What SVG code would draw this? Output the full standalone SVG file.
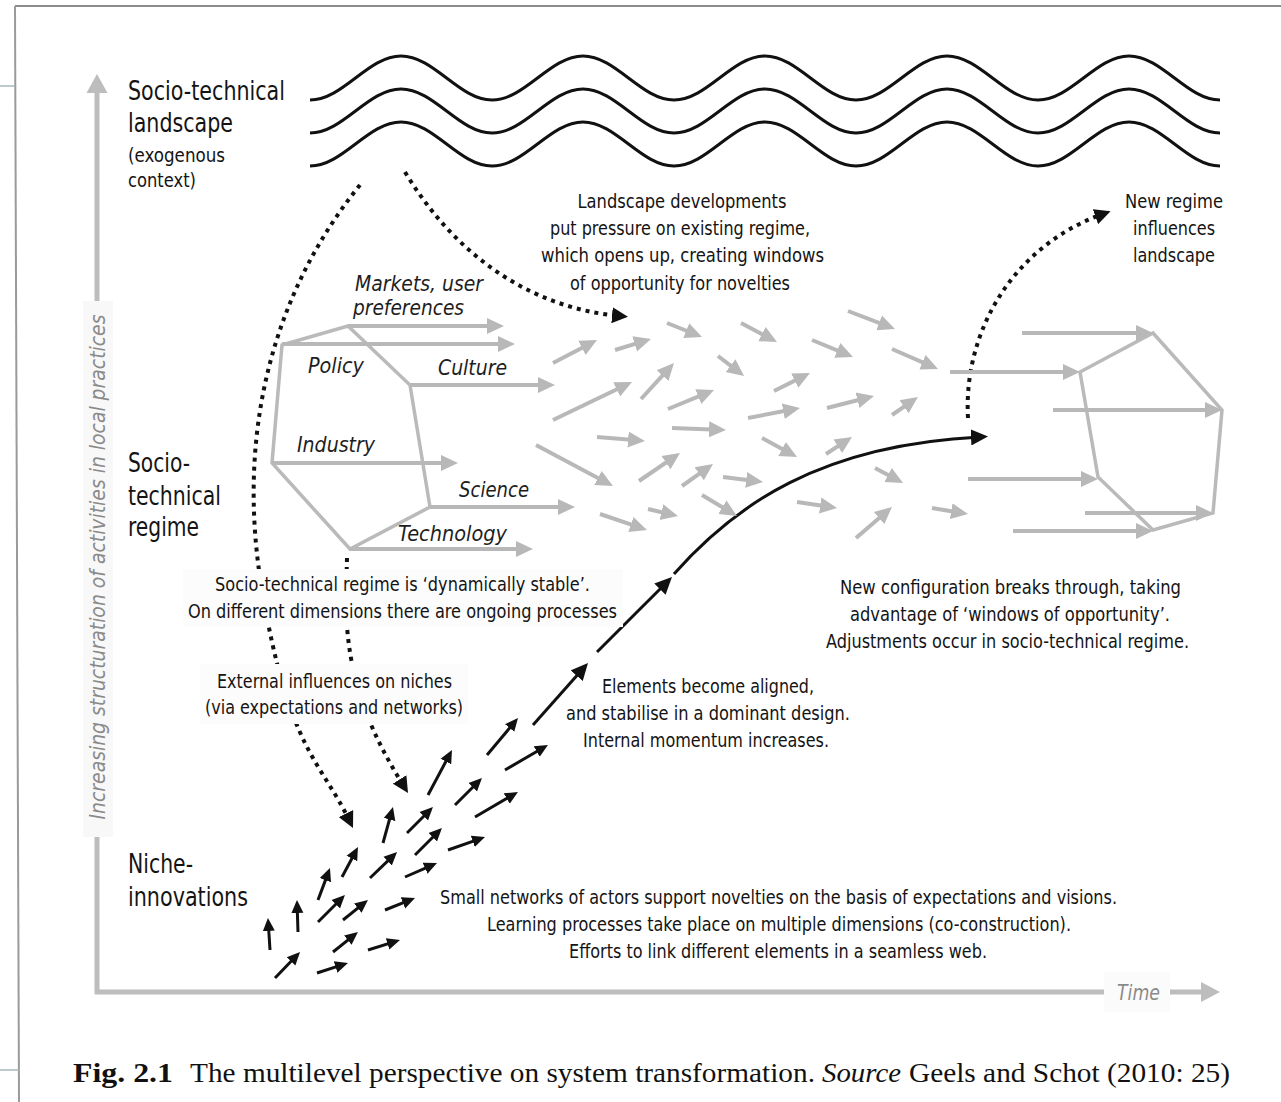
<svg xmlns="http://www.w3.org/2000/svg" width="1281" height="1102" viewBox="0 0 1281 1102">
  <style>
    .sans { font-family: "Liberation Sans Narrow", "DejaVu Sans Condensed", "Liberation Sans", sans-serif; fill: #141414; }
    .head { font-size: 26px; }
    .sub { font-size: 20px; }
    .body { font-size: 20px; text-anchor: middle; }
    .dim { font-size: 21px; font-style: italic; fill: #1e1e1e; }
    .axis-t { font-size: 21px; font-style: italic; fill: #8a8a8a; }
    .cap { font-family: "Liberation Serif", "Times New Roman", serif; font-size: 27px; fill: #111; }
    .wave { fill: none; stroke: #111; stroke-width: 3; }
    .hex { fill: none; stroke: #bababa; stroke-width: 3.5; stroke-linejoin: miter; }
    .ga { stroke: #b8b8b8; stroke-width: 4; fill: none; marker-end: url(#hg); }
    .na { stroke: #111; stroke-width: 3; fill: none; marker-end: url(#hb); }
    .ka { stroke: #111; stroke-width: 3; fill: none; marker-end: url(#hk); }
    .dot { stroke: #111; stroke-width: 4; stroke-dasharray: 4 5; fill: none; marker-end: url(#hd); }
    .note-bg { fill: #fcfcfc; }
  </style>
  <defs>
    <marker id="hg" markerUnits="userSpaceOnUse" viewBox="0 0 18 18" markerWidth="18" markerHeight="18" refX="9" refY="9" orient="auto">
      <path d="M0,1 L17,9 L0,17 z" fill="#b8b8b8"/>
    </marker>
    <marker id="hb" markerUnits="userSpaceOnUse" viewBox="0 0 14 14" markerWidth="14" markerHeight="14" refX="6" refY="7" orient="auto">
      <path d="M0,1 L13,7 L0,13 z" fill="#111"/>
    </marker>
    <marker id="hk" markerUnits="userSpaceOnUse" viewBox="0 0 18 16" markerWidth="18" markerHeight="16" refX="9" refY="8" orient="auto">
      <path d="M0,0 L17,8 L0,16 z" fill="#111"/>
    </marker>
    <marker id="hd" markerUnits="userSpaceOnUse" viewBox="0 0 17 16" markerWidth="17" markerHeight="16" refX="8" refY="8" orient="auto">
      <path d="M0,0 L16,8 L0,16 z" fill="#111"/>
    </marker>
    <path id="wave-line" d="M310,22 C343.1,22 367.9,-22 401,-22 S459,22 492,22 S550,-22 583,-22 S641,22 674,22 S732,-22 765,-22 S823,22 856,22 S914,-22 947,-22 S1005,22 1038,22 S1096,-22 1129,-22 S1187,22 1220,22"/>
  </defs>

  <rect width="1281" height="1102" fill="#fff"/>

  <!-- page edges -->
  <g id="frame" fill="none">
    <line x1="15" y1="6" x2="1281" y2="6" stroke="#8c8c8c" stroke-width="2"/>
    <line x1="15" y1="6" x2="19" y2="1102" stroke="#9a9a9a" stroke-width="2"/>
    <line x1="0" y1="86" x2="15" y2="86" stroke="#a9b9b9" stroke-width="1.5"/>
    <line x1="0" y1="1070" x2="19" y2="1070" stroke="#a9b9b9" stroke-width="1.5"/>
  </g>

  <!-- axes -->
  <g id="axes">
    <line x1="97" y1="994" x2="97" y2="90" stroke="#bdbdbd" stroke-width="5"/>
    <polygon points="97,74 107.5,93 86.5,93" fill="#bdbdbd"/>
    <line x1="95" y1="992" x2="1204" y2="992" stroke="#bdbdbd" stroke-width="5"/>
    <polygon points="1220,992 1201,982 1201,1002" fill="#bdbdbd"/>
    <rect x="83" y="301" width="30" height="536" fill="#f8f8f8"/>
    <text class="sans axis-t" transform="translate(105,567) rotate(-90)" text-anchor="middle" textLength="505" lengthAdjust="spacingAndGlyphs">Increasing structuration of activities in local practices</text>
    <rect x="1104" y="972" width="66" height="40" fill="#fbfbfb"/>
    <text class="sans axis-t" x="1117" y="1000" font-size="20" textLength="43" lengthAdjust="spacingAndGlyphs">Time</text>
  </g>

  <!-- landscape waves -->
  <g id="landscape">
    <use href="#wave-line" class="wave" transform="translate(0,78)"/>
    <use href="#wave-line" class="wave" transform="translate(0,111)"/>
    <use href="#wave-line" class="wave" transform="translate(0,144)"/>
  </g>

  <!-- level labels -->
  <g id="label-landscape" class="sans">
    <text class="head" x="128" y="100" textLength="157" lengthAdjust="spacingAndGlyphs">Socio-technical</text>
    <text class="head" x="128" y="132" textLength="105" lengthAdjust="spacingAndGlyphs">landscape</text>
    <text class="sub" x="128" y="162" textLength="97" lengthAdjust="spacingAndGlyphs">(exogenous</text>
    <text class="sub" x="128" y="187" textLength="68" lengthAdjust="spacingAndGlyphs">context)</text>
  </g>
  <g id="label-regime" class="sans">
    <text class="head" x="128" y="472" textLength="62" lengthAdjust="spacingAndGlyphs">Socio-</text>
    <text class="head" x="128" y="505" textLength="93" lengthAdjust="spacingAndGlyphs">technical</text>
    <text class="head" x="128" y="536" textLength="71" lengthAdjust="spacingAndGlyphs">regime</text>
  </g>
  <g id="label-niche" class="sans">
    <text class="head" x="128" y="873" textLength="65" lengthAdjust="spacingAndGlyphs">Niche-</text>
    <text class="head" x="128" y="906" textLength="120" lengthAdjust="spacingAndGlyphs">innovations</text>
  </g>

  <!-- connectors -->
  <g id="connectors">
    <path class="dot" d="M360,185 C275,290 235,430 262,590 S320,760 349.5,820.8"/>
    <path class="dot" d="M347,558 L346,600 C346,680 372,735 403.8,786.2"/>
    <path class="dot" d="M405,172 C455,255 530,308 620,316"/>
    <path class="dot" d="M968,418 C963,330 1015,245 1103,214"/>
    <line class="ka" x1="533" y1="725" x2="582.7" y2="669"/>
    <line class="ka" x1="597" y1="652" x2="666.3" y2="582.7"/>
    <path class="ka" d="M674,574 C735,505 820,445 980,437"/>
  </g>

  <!-- existing regime -->
  <g id="regime-current">
    <polygon class="hex" points="282,345 348,326 410,385 430,507 350,549 272,463"/>
    <line class="ga" x1="348" y1="326" x2="496" y2="326"/>
    <line class="ga" x1="282" y1="344" x2="507" y2="344"/>
    <line class="ga" x1="410" y1="385" x2="547" y2="385"/>
    <line class="ga" x1="272" y1="463" x2="450" y2="463"/>
    <line class="ga" x1="430" y1="507" x2="567" y2="507"/>
    <line class="ga" x1="350" y1="549" x2="525" y2="549"/>
    <g class="sans dim">
      <text x="355" y="291" textLength="128" lengthAdjust="spacingAndGlyphs">Markets, user</text>
      <text x="353" y="315" textLength="111" lengthAdjust="spacingAndGlyphs">preferences</text>
      <text x="308" y="373" textLength="56" lengthAdjust="spacingAndGlyphs">Policy</text>
      <text x="438" y="375" textLength="69" lengthAdjust="spacingAndGlyphs">Culture</text>
      <text x="297" y="452" textLength="78" lengthAdjust="spacingAndGlyphs">Industry</text>
      <text x="459" y="497" textLength="70" lengthAdjust="spacingAndGlyphs">Science</text>
      <text x="398" y="541" textLength="109" lengthAdjust="spacingAndGlyphs">Technology</text>
    </g>
  </g>

  <!-- opened-up regime: scattered dimension arrows -->
  <g id="regime-flux">
    <line class="ga" x1="553" y1="363" x2="589.9" y2="343.7"/>
    <line class="ga" x1="615" y1="350" x2="643.3" y2="341.3"/>
    <line class="ga" x1="667" y1="323" x2="694.6" y2="334"/>
    <line class="ga" x1="741" y1="323" x2="769.9" y2="338.3"/>
    <line class="ga" x1="848" y1="311" x2="887.5" y2="326.1"/>
    <line class="ga" x1="812" y1="340" x2="845.6" y2="353.9"/>
    <line class="ga" x1="892" y1="349" x2="930.7" y2="365.8"/>
    <line class="ga" x1="553" y1="420" x2="624.8" y2="385.5"/>
    <line class="ga" x1="641" y1="399" x2="668.6" y2="368.9"/>
    <line class="ga" x1="718" y1="356" x2="737.7" y2="371.1"/>
    <line class="ga" x1="668" y1="409" x2="706.6" y2="393.1"/>
    <line class="ga" x1="774" y1="391" x2="802.8" y2="376.6"/>
    <line class="ga" x1="748" y1="418" x2="792.1" y2="409.5"/>
    <line class="ga" x1="827" y1="408" x2="866.2" y2="398"/>
    <line class="ga" x1="892" y1="415" x2="911.4" y2="401.6"/>
    <line class="ga" x1="597" y1="437" x2="637" y2="440.3"/>
    <line class="ga" x1="672" y1="428" x2="718" y2="429.7"/>
    <line class="ga" x1="536" y1="445" x2="605.9" y2="482.2"/>
    <line class="ga" x1="762" y1="438" x2="790" y2="453.2"/>
    <line class="ga" x1="826" y1="454" x2="845.3" y2="441.4"/>
    <line class="ga" x1="639" y1="481" x2="673.4" y2="457.5"/>
    <line class="ga" x1="682" y1="486" x2="706.5" y2="468.6"/>
    <line class="ga" x1="723" y1="477" x2="755.1" y2="481"/>
    <line class="ga" x1="875" y1="468" x2="896" y2="479.2"/>
    <line class="ga" x1="600" y1="514" x2="639.4" y2="527.4"/>
    <line class="ga" x1="648" y1="509" x2="670.2" y2="514.2"/>
    <line class="ga" x1="702" y1="495" x2="730.1" y2="511.9"/>
    <line class="ga" x1="797" y1="502" x2="829.1" y2="506.8"/>
    <line class="ga" x1="856" y1="538" x2="885.9" y2="512.2"/>
    <line class="ga" x1="932" y1="508" x2="960.1" y2="512.7"/>
  </g>

  <!-- new regime -->
  <g id="regime-new">
    <polygon class="hex" points="1080,372 1153,333 1222,410 1213,513 1153,530 1098,477"/>
    <line class="ga" x1="1022" y1="333" x2="1145" y2="333"/>
    <line class="ga" x1="950" y1="372" x2="1072" y2="372"/>
    <line class="ga" x1="1053" y1="410" x2="1214" y2="410"/>
    <line class="ga" x1="968" y1="479" x2="1090" y2="479"/>
    <line class="ga" x1="1085" y1="513" x2="1205" y2="513"/>
    <line class="ga" x1="1013" y1="531" x2="1145" y2="531"/>
  </g>

  <!-- niche-innovations -->
  <g id="niche">
    <line class="na" x1="270" y1="950" x2="268.4" y2="925"/>
    <line class="na" x1="298" y1="932" x2="297.2" y2="907"/>
    <line class="na" x1="275" y1="978" x2="295.2" y2="957"/>
    <line class="na" x1="317" y1="973" x2="341.3" y2="965.1"/>
    <line class="na" x1="318" y1="922" x2="340" y2="900"/>
    <line class="na" x1="318" y1="900" x2="327.5" y2="874.6"/>
    <line class="na" x1="333" y1="952" x2="352.5" y2="936.4"/>
    <line class="na" x1="368" y1="950" x2="393.3" y2="942.1"/>
    <line class="na" x1="343" y1="920" x2="362.5" y2="904.4"/>
    <line class="na" x1="342" y1="877" x2="354.7" y2="853.2"/>
    <line class="na" x1="385" y1="910" x2="408.5" y2="900.6"/>
    <line class="na" x1="370" y1="878" x2="392" y2="856.9"/>
    <line class="na" x1="405" y1="877" x2="430.6" y2="865.8"/>
    <line class="na" x1="383" y1="843" x2="391.1" y2="813.7"/>
    <line class="na" x1="407" y1="833" x2="428" y2="812"/>
    <line class="na" x1="415" y1="855" x2="437" y2="833"/>
    <line class="na" x1="448" y1="850" x2="478.4" y2="839.3"/>
    <line class="na" x1="428" y1="795" x2="448.7" y2="756.2"/>
    <line class="na" x1="455" y1="805" x2="477" y2="783"/>
    <line class="na" x1="475" y1="817" x2="511.9" y2="795.5"/>
    <line class="na" x1="505" y1="770" x2="541.9" y2="748.5"/>
    <line class="na" x1="487" y1="755" x2="513.5" y2="723.4"/>
  </g>

  <!-- explanatory notes -->
  <g id="note-landscape-pressure" class="sans body">
    <text x="682" y="208" textLength="209" lengthAdjust="spacingAndGlyphs">Landscape  developments</text>
    <text x="680" y="235" textLength="260" lengthAdjust="spacingAndGlyphs">put pressure on existing regime,</text>
    <text x="682.5" y="262" textLength="283" lengthAdjust="spacingAndGlyphs">which opens up, creating windows</text>
    <text x="680" y="290" textLength="220" lengthAdjust="spacingAndGlyphs">of opportunity for novelties</text>
  </g>
  <g id="note-new-regime" class="sans body">
    <text x="1174" y="208" textLength="98" lengthAdjust="spacingAndGlyphs">New regime</text>
    <text x="1174" y="235" textLength="82" lengthAdjust="spacingAndGlyphs">influences</text>
    <text x="1174" y="262" textLength="82" lengthAdjust="spacingAndGlyphs">landscape</text>
  </g>
  <g id="note-regime-stable">
    <rect class="note-bg" x="183" y="569" width="440" height="58"/>
    <g class="sans body">
      <text x="402.5" y="591" textLength="375" lengthAdjust="spacingAndGlyphs">Socio-technical regime  is ‘dynamically stable’.</text>
      <text x="402.5" y="618" textLength="429" lengthAdjust="spacingAndGlyphs">On different dimensions there are ongoing processes</text>
    </g>
  </g>
  <g id="note-external">
    <rect class="note-bg" x="200" y="664" width="268" height="60"/>
    <g class="sans body">
      <text x="334.5" y="688" textLength="235" lengthAdjust="spacingAndGlyphs">External influences on niches</text>
      <text x="334" y="714" textLength="258" lengthAdjust="spacingAndGlyphs">(via expectations and networks)</text>
    </g>
  </g>
  <g id="note-aligned" class="sans body">
    <text x="708" y="693" textLength="212" lengthAdjust="spacingAndGlyphs">Elements become aligned,</text>
    <text x="708" y="720" textLength="284" lengthAdjust="spacingAndGlyphs">and stabilise in a dominant design.</text>
    <text x="706" y="747" textLength="246" lengthAdjust="spacingAndGlyphs">Internal momentum increases.</text>
  </g>
  <g id="note-breakthrough" class="sans body">
    <text x="1010.5" y="594" textLength="341" lengthAdjust="spacingAndGlyphs">New configuration breaks through, taking</text>
    <text x="1010" y="621" textLength="320" lengthAdjust="spacingAndGlyphs">advantage of ‘windows of opportunity’.</text>
    <text x="1007.5" y="648" textLength="363" lengthAdjust="spacingAndGlyphs">Adjustments occur in socio-technical regime.</text>
  </g>
  <g id="note-niche" class="sans body">
    <text x="778.5" y="904" textLength="677" lengthAdjust="spacingAndGlyphs">Small networks of actors support novelties on the basis of expectations and visions.</text>
    <text x="779" y="931" textLength="584" lengthAdjust="spacingAndGlyphs">Learning processes take place on multiple dimensions (co-construction).</text>
    <text x="778" y="958" textLength="418" lengthAdjust="spacingAndGlyphs">Efforts to link different elements in a seamless web.</text>
  </g>

  <!-- caption -->
  <g id="caption" class="cap">
    <text x="73" y="1082" font-weight="bold" textLength="100" lengthAdjust="spacingAndGlyphs">Fig. 2.1</text>
    <text x="190" y="1082" textLength="625" lengthAdjust="spacingAndGlyphs">The multilevel perspective on system transformation.</text>
    <text x="822" y="1082" font-style="italic" textLength="79" lengthAdjust="spacingAndGlyphs">Source</text>
    <text x="909" y="1082" textLength="321" lengthAdjust="spacingAndGlyphs">Geels and Schot (2010: 25)</text>
  </g>
</svg>
